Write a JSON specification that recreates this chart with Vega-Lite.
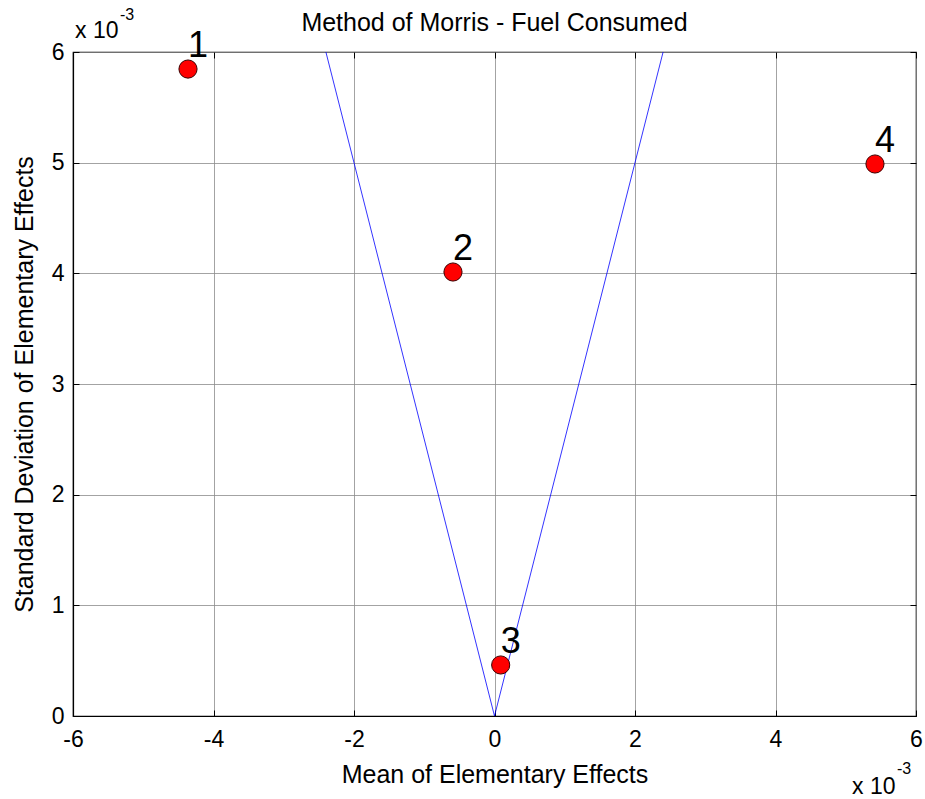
{
  "$schema": "https://vega.github.io/schema/vega-lite/v6.json",
  "width": 843,
  "height": 664,
  "autosize": "none",
  "padding": {"left": 73, "top": 52, "right": 9, "bottom": 83},
  "background": "white",
  "config": {
    "font": "Liberation Sans",
    "view": {"stroke": "black", "strokeWidth": 1.2},
    "axis": {"domainColor": "black", "tickColor": "black", "labelColor": "black", "titleColor": "black", "labelFont": "Liberation Sans", "titleFont": "Liberation Sans", "labelFontSize": 23, "titleFontSize": 25, "titleFontWeight": "normal", "gridColor": "#8c8c8c", "gridWidth": 0.8, "domainWidth": 1.2}
  },
  "title": {"text": "Method of Morris - Fuel Consumed", "fontSize": 25, "fontWeight": "normal", "font": "Liberation Sans", "color": "black", "offset": 14, "dy": 43},
  "datasets": {
    "pts": [
      {"id": "1", "mu": -4.363, "sigma": 5.846},
      {"id": "2", "mu": -0.591, "sigma": 4.012},
      {"id": "3", "mu": 0.088, "sigma": 0.461},
      {"id": "4", "mu": 5.416, "sigma": 4.988}
    ],
    "vlines": [
      {"side": "left", "mu": 0, "sigma": 0},
      {"side": "left", "mu": -2.4, "sigma": 6},
      {"side": "right", "mu": 0, "sigma": 0},
      {"side": "right", "mu": 2.4, "sigma": 6}
    ],
    "exps": [
      {"where": "y", "mu": -6, "sigma": 6, "base": "x 10", "exp": "-3"},
      {"where": "x", "mu": 6, "sigma": 0, "base": "x 10", "exp": "-3"}
    ]
  },
  "layer": [
    {
      "data": {"name": "vlines"},
      "mark": {"type": "line", "color": "#0000ff", "strokeWidth": 0.8, "clip": true},
      "encoding": {
        "x": {"field": "mu", "type": "quantitative", "scale": {"domain": [-6, 6], "nice": false, "zero": false},
          "axis": {"orient": "top", "labels": false, "title": null, "grid": false, "domain": false, "tickSize": -6, "values": [-6, -4, -2, 0, 2, 4, 6]}},
        "y": {"field": "sigma", "type": "quantitative", "scale": {"domain": [0, 6], "nice": false},
          "axis": {"orient": "right", "labels": false, "title": null, "grid": false, "domain": false, "tickSize": -6, "values": [0, 1, 2, 3, 4, 5, 6]}},
        "detail": {"field": "side"}
      }
    },
    {
      "data": {"name": "pts"},
      "mark": {"type": "point", "shape": "circle", "filled": true, "size": 330, "fill": "#ff0000", "stroke": "#3a0000", "strokeWidth": 1, "opacity": 1},
      "encoding": {
        "x": {"field": "mu", "type": "quantitative", "scale": {"domain": [-6, 6], "nice": false, "zero": false},
          "axis": {"orient": "bottom", "title": "Mean of Elementary Effects", "titlePadding": 11, "tickSize": -6, "labelPadding": 18, "grid": true, "values": [-6, -4, -2, 0, 2, 4, 6], "labelFlush": false, "labelExpr": "replace(datum.label, '\u2212', '-')"}},
        "y": {"field": "sigma", "type": "quantitative", "scale": {"domain": [0, 6], "nice": false},
          "axis": {"orient": "left", "title": "Standard Deviation of Elementary Effects", "titlePadding": 14, "tickSize": -6, "labelPadding": 15, "grid": true, "values": [0, 1, 2, 3, 4, 5, 6], "labelFlush": false}}
      }
    },
    {
      "data": {"name": "pts"},
      "mark": {"type": "text", "fontSize": 36, "font": "Liberation Sans", "align": "center", "baseline": "alphabetic", "dx": 10, "dy": -12, "color": "black"},
      "encoding": {
        "x": {"field": "mu", "type": "quantitative", "axis": null},
        "y": {"field": "sigma", "type": "quantitative", "axis": null},
        "text": {"field": "id"}
      }
    },
    {
      "data": {"name": "exps"},
      "transform": [{"filter": "datum.where === 'y'"}],
      "layer": [
        {"mark": {"type": "text", "fontSize": 23, "align": "left", "baseline": "alphabetic", "dx": 2, "dy": -14, "color": "black"},
          "encoding": {"x": {"field": "mu", "type": "quantitative", "axis": null}, "y": {"field": "sigma", "type": "quantitative", "axis": null}, "text": {"field": "base"}}},
        {"mark": {"type": "text", "fontSize": 16, "align": "left", "baseline": "alphabetic", "dx": 47, "dy": -32, "color": "black"},
          "encoding": {"x": {"field": "mu", "type": "quantitative", "axis": null}, "y": {"field": "sigma", "type": "quantitative", "axis": null}, "text": {"field": "exp"}}}
      ]
    },
    {
      "data": {"name": "exps"},
      "transform": [{"filter": "datum.where === 'x'"}],
      "layer": [
        {"mark": {"type": "text", "fontSize": 23, "align": "left", "baseline": "alphabetic", "dx": -64, "dy": 78, "color": "black"},
          "encoding": {"x": {"field": "mu", "type": "quantitative", "axis": null}, "y": {"field": "sigma", "type": "quantitative", "axis": null}, "text": {"field": "base"}}},
        {"mark": {"type": "text", "fontSize": 16, "align": "left", "baseline": "alphabetic", "dx": -19, "dy": 58, "color": "black"},
          "encoding": {"x": {"field": "mu", "type": "quantitative", "axis": null}, "y": {"field": "sigma", "type": "quantitative", "axis": null}, "text": {"field": "exp"}}}
      ]
    }
  ],
  "resolve": {"axis": {"x": "independent", "y": "independent"}}
}
